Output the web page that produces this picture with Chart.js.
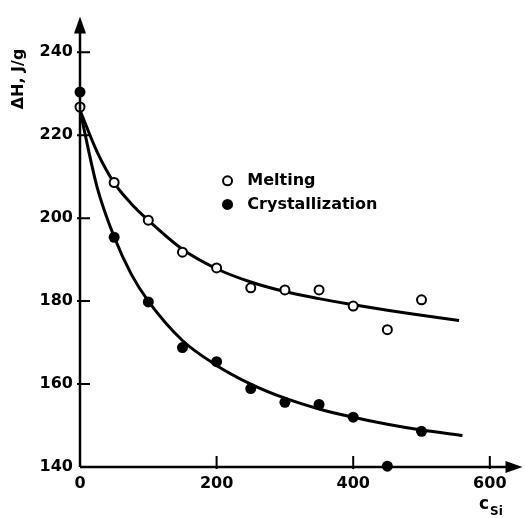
<!DOCTYPE html>
<html>
<head>
<meta charset="utf-8">
<script src="https://cdn.jsdelivr.net/npm/chart.js@4/dist/chart.umd.min.js"></script>
<style>
html,body{margin:0;padding:0;background:#fff;}
#wrap{width:525px;height:518px;position:relative;}
</style>
</head>
<body>
<div id="wrap"><canvas id="c" width="525" height="518"></canvas></div>
<script>
// Measured points (c_Si vs ΔH)
const xValues = [0, 50, 100, 150, 200, 250, 300, 350, 400, 450, 500];
const melting = [226.8, 208.6, 199.5, 191.8, 188.0, 183.2, 182.7, 182.7, 178.8, 173.1, 180.3];
const crystallization = [230.4, 195.4, 179.8, 168.8, 165.4, 158.9, 155.6, 155.1, 152.0, 140.2, 148.6];

// Fitted curves
const meltFitX = [0, 25, 50, 75, 100, 150, 200, 250, 300, 350, 400, 450, 500, 555];
const meltFitY = [226, 216, 208.5, 203.5, 199.5, 192.5, 187.8, 184.6, 182.3, 180.6, 179.1, 177.8, 176.6, 175.3];
const crystFitX = [0, 25, 50, 75, 100, 150, 200, 250, 300, 350, 400, 450, 500, 560];
const crystFitY = [226, 207.5, 195.5, 186.5, 180, 170.5, 164.5, 160, 156.6, 154, 152, 150.3, 148.9, 147.6];

const xTicks = [0, 200, 400, 600];
const yTicks = [140, 160, 180, 200, 220, 240];
const legendLabels = ['Melting', 'Crystallization'];
const yTitle = 'ΔH, J/g';
const xTitleMain = 'c';
const xTitleSub = 'Si';

const pts = (xs, ys) => xs.map((x, i) => ({x: x, y: ys[i]}));
const FONT = '"DejaVu Sans", sans-serif';

const decor = {
  id: 'decor',
  afterDraw(chart) {
    const ctx = chart.ctx;
    const xs = chart.scales.x, ys = chart.scales.y;
    const ca = chart.chartArea;
    const x0 = xs.getPixelForValue(0), y0 = ys.getPixelForValue(140);
    ctx.save();
    ctx.strokeStyle = '#000';
    ctx.fillStyle = '#000';
    ctx.lineWidth = 2.5;
    // axes
    ctx.beginPath();
    ctx.moveTo(x0, y0); ctx.lineTo(x0, ca.top + 8);
    ctx.moveTo(x0, y0); ctx.lineTo(ca.right - 8, y0);
    ctx.stroke();
    // arrowheads
    ctx.beginPath();
    ctx.moveTo(x0, ca.top); ctx.lineTo(x0 - 6, ca.top + 17); ctx.lineTo(x0 + 6, ca.top + 17); ctx.closePath();
    ctx.fill();
    ctx.beginPath();
    ctx.moveTo(ca.right + 4, y0); ctx.lineTo(ca.right - 13, y0 - 6); ctx.lineTo(ca.right - 13, y0 + 6); ctx.closePath();
    ctx.fill();
    // inward ticks
    ctx.lineWidth = 2;
    ctx.beginPath();
    yTicks.forEach(v => { if (v === 140) return; const p = ys.getPixelForValue(v); ctx.moveTo(x0 - 3, p); ctx.lineTo(x0 + 10, p); });
    xTicks.forEach(v => { if (v === 0) return; const p = xs.getPixelForValue(v); ctx.moveTo(p, y0 + 2); ctx.lineTo(p, y0 - 11); });
    ctx.stroke();
    // legend
    const lx = xs.getPixelForValue(216), tx = xs.getPixelForValue(245);
    const ly1 = ys.getPixelForValue(209), ly2 = ys.getPixelForValue(203.3);
    ctx.beginPath(); ctx.arc(lx, ly1, 4.5, 0, Math.PI * 2);
    ctx.fillStyle = '#fff'; ctx.fill(); ctx.lineWidth = 2; ctx.stroke();
    ctx.beginPath(); ctx.arc(lx, ly2, 5.5, 0, Math.PI * 2);
    ctx.fillStyle = '#000'; ctx.fill();
    ctx.font = 'bold 16px ' + FONT;
    ctx.textBaseline = 'middle';
    ctx.textAlign = 'left';
    ctx.fillText(legendLabels[0], tx, ly1);
    ctx.fillText(legendLabels[1], tx, ly2);
    // y title
    ctx.save();
    ctx.translate(19, 79);
    ctx.rotate(-Math.PI / 2);
    ctx.textAlign = 'center';
    ctx.font = 'bold 16px ' + FONT;
    ctx.fillText(yTitle, 0, 0);
    ctx.restore();
    // x title
    ctx.font = 'bold 17px ' + FONT;
    ctx.textAlign = 'left';
    ctx.fillText(xTitleMain, 479, 505);
    ctx.font = 'bold 12px ' + FONT;
    ctx.fillText(xTitleSub, 490, 512);
    ctx.restore();
  }
};

new Chart(document.getElementById('c'), {
  type: 'scatter',
  data: {
    datasets: [
      { label: legendLabels[0], data: pts(xValues, melting), order: 0,
        pointStyle: 'circle', pointRadius: 4.5, pointBorderWidth: 2,
        pointBackgroundColor: '#fff', pointBorderColor: '#000', showLine: false },
      { label: legendLabels[1], data: pts(xValues, crystallization), order: 0,
        pointStyle: 'circle', pointRadius: 5.5, pointBorderWidth: 0,
        pointBackgroundColor: '#000', pointBorderColor: '#000', showLine: false },
      { label: 'meltFit', data: pts(meltFitX, meltFitY), order: 1, showLine: true,
        borderColor: '#000', borderWidth: 3, pointRadius: 0, cubicInterpolationMode: 'monotone' },
      { label: 'crystFit', data: pts(crystFitX, crystFitY), order: 1, showLine: true,
        borderColor: '#000', borderWidth: 3, pointRadius: 0, cubicInterpolationMode: 'monotone' }
    ]
  },
  options: {
    responsive: false,
    animation: false,
    events: [],
    clip: false,
    layout: { padding: { top: 14, right: 4, left: 0, bottom: 0 } },
    plugins: { legend: { display: false }, tooltip: { enabled: false } },
    scales: {
      x: {
        type: 'linear', min: 0, max: 642,
        grid: { display: false, drawTicks: false }, border: { display: false },
        afterBuildTicks: s => { s.ticks = xTicks.map(v => ({value: v})); },
        afterFit: s => { s.height = 51; },
        ticks: { color: '#000', font: { family: FONT, size: 16, weight: 'bold' }, padding: 7, maxRotation: 0, autoSkip: false }
      },
      y: {
        type: 'linear', min: 140, max: 248.6,
        grid: { display: false, drawTicks: false }, border: { display: false },
        afterBuildTicks: s => { s.ticks = yTicks.map(v => ({value: v})); },
        afterFit: s => { s.width = 80; },
        ticks: { color: '#000', font: { family: FONT, size: 16, weight: 'bold' }, padding: 7, autoSkip: false }
      }
    }
  },
  plugins: [decor]
});
</script>
</body>
</html>
